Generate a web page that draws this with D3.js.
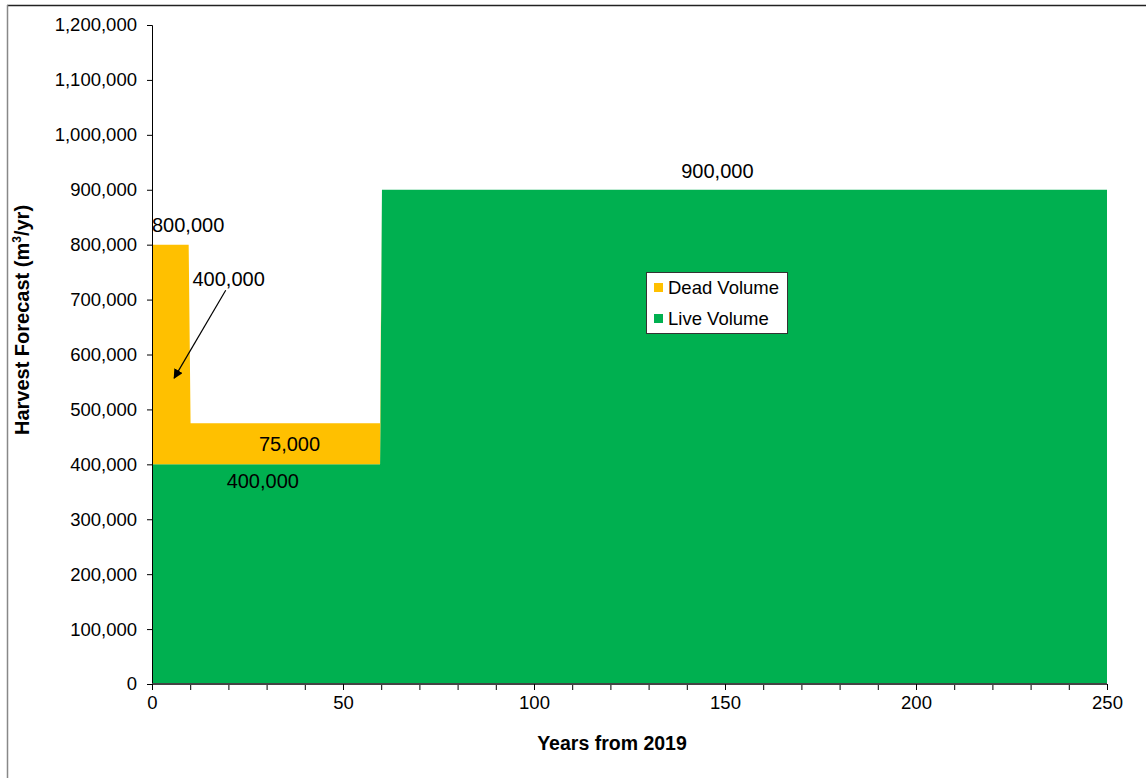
<!DOCTYPE html>
<html><head><meta charset="utf-8">
<script src="https://cdn.jsdelivr.net/npm/d3@7"></script>
<style>body{margin:0;background:#fff;} svg{display:block;font-family:"Liberation Sans",Arial,sans-serif;}</style>
</head><body>
<svg id="c" width="1146" height="778"></svg>
<script>
// Data
const years = [0, 9.6, 10.1, 59.7, 60.2, 250];
const liveVolume = [400000, 400000, 400000, 400000, 900000, 900000];
const deadVolume = [400000, 400000, 75000, 75000, 0, 0];
const seriesNames = ["Dead Volume", "Live Volume"];
const seriesColors = ["#FFC000", "#00B050"];
const yTicks = [0,100000,200000,300000,400000,500000,600000,700000,800000,900000,1000000,1100000,1200000];
const xMajorTicks = [0, 50, 100, 150, 200, 250];
const xMinorTicks = d3.range(0, 251, 10);
const annotations = [
  {text: "900,000", x: 148, y: 900000, anchor: "middle", dy: -12},
  {text: "800,000", x: 0, y: 800000, anchor: "start", dy: -13},
  {text: "400,000", x: 10.6, y: 700000, anchor: "start", dy: -14},
  {text: "75,000", x: 36, y: 437500, anchor: "middle", dy: 7},
  {text: "400,000", x: 29, y: 400000, anchor: "middle", dy: 24}
];

const svg = d3.select("#c");
const W = 1146, H = 778;
const m = {left: 152, right: 1107, top: 25, bottom: 684};

const x = d3.scaleLinear().domain([0, 250]).range([m.left, m.right]);
const y = d3.scaleLinear().domain([0, 1200000]).range([m.bottom, m.top]);

// outer border
svg.append("line").attr("x1", 7).attr("x2", W).attr("y1", 5.5).attr("y2", 5.5).attr("stroke", "#222").attr("stroke-width", 1.5);
svg.append("line").attr("x1", 7.5).attr("x2", 7.5).attr("y1", 5).attr("y2", H).attr("stroke", "#888").attr("stroke-width", 1.5);

const data = years.map((yr, i) => ({year: yr, live: liveVolume[i], dead: deadVolume[i]}));
const stack = d3.stack().keys(["live", "dead"]);
const stacked = stack(data);
const area = d3.area().x(d => x(d.data.year)).y0(d => y(d[0])).y1(d => y(d[1]));
const colorFor = {live: seriesColors[1], dead: seriesColors[0]};
svg.append("g").selectAll("path").data(stacked).join("path")
  .attr("d", area).attr("fill", d => colorFor[d.key]);

// Y axis
const yAxis = d3.axisLeft(y).tickValues(yTicks).tickSize(5).tickPadding(10)
  .tickFormat(d3.format(","));
const gy = svg.append("g").attr("transform", `translate(${m.left},0)`).call(yAxis);
gy.select(".domain").attr("stroke", "#000").attr("d", `M-5,${m.top + 0.5}H0.5V${m.bottom}`);
gy.selectAll(".tick line").attr("stroke", "#000");
gy.selectAll("text").attr("font-size", 18.5).attr("fill", "#000").attr("font-family", "Liberation Sans, Arial, sans-serif");

// X axis
const xAxisMinor = d3.axisBottom(x).tickValues(xMinorTicks).tickSize(6).tickFormat("");
const gxm = svg.append("g").attr("transform", `translate(0,${m.bottom})`).call(xAxisMinor);
gxm.select(".domain").remove();
gxm.selectAll(".tick line").attr("stroke", "#000");
const xAxis = d3.axisBottom(x).tickValues(xMajorTicks).tickSize(6).tickPadding(6).tickFormat(d3.format("d"));
const gx = svg.append("g").attr("transform", `translate(0,${m.bottom})`).call(xAxis);
gx.select(".domain").attr("stroke", "#444").attr("stroke-width", 2).attr("d", `M${m.left},0H${m.right}`);
gx.selectAll(".tick line").attr("stroke", "#000");
gx.selectAll("text").attr("font-size", 18.5).attr("fill", "#000").attr("font-family", "Liberation Sans, Arial, sans-serif");

// Axis titles
svg.append("text").attr("x", 612).attr("y", 750)
  .attr("text-anchor", "middle").attr("font-weight", "bold").attr("font-size", 19.5)
  .text("Years from 2019");
const yt = svg.append("text").attr("transform", `translate(29,320) rotate(-90)`)
  .attr("text-anchor", "middle").attr("font-weight", "bold").attr("font-size", 20);
yt.append("tspan").text("Harvest Forecast (m");
yt.append("tspan").attr("font-size", 12).attr("dy", -8).text("3");
yt.append("tspan").attr("dy", 8).text("/yr)");

// Annotations
svg.append("g").selectAll("text").data(annotations).join("text")
  .attr("x", d => x(d.x)).attr("y", d => y(d.y) + d.dy)
  .attr("text-anchor", d => d.anchor).attr("font-size", 20).attr("fill", "#000")
  .text(d => d.text);

// Arrow
const defs = svg.append("defs");
defs.append("marker").attr("id", "ah").attr("viewBox", "0 0 10 10").attr("refX", 9).attr("refY", 5)
  .attr("markerWidth", 8).attr("markerHeight", 8).attr("orient", "auto-start-reverse")
  .append("path").attr("d", "M0,0L10,5L0,10z").attr("fill", "#000");
svg.append("line").attr("x1", x(19.3)).attr("y1", y(717000)).attr("x2", x(5.8)).attr("y2", y(557000))
  .attr("stroke", "#000").attr("stroke-width", 1.2).attr("marker-end", "url(#ah)");

// Legend
const lg = svg.append("g").attr("transform", "translate(646,272)");
lg.append("rect").attr("x", 0.5).attr("y", 0.5).attr("width", 141).attr("height", 61)
  .attr("fill", "#fff").attr("stroke", "#333").attr("stroke-width", 1);
seriesNames.forEach((n, i) => {
  lg.append("rect").attr("x", 8).attr("y", 11 + i * 31).attr("width", 9).attr("height", 9).attr("fill", seriesColors[i]);
  lg.append("text").attr("x", 22).attr("y", 22 + i * 31).attr("font-size", 18.5).attr("fill", "#000").text(n);
});
</script>
</body></html>
